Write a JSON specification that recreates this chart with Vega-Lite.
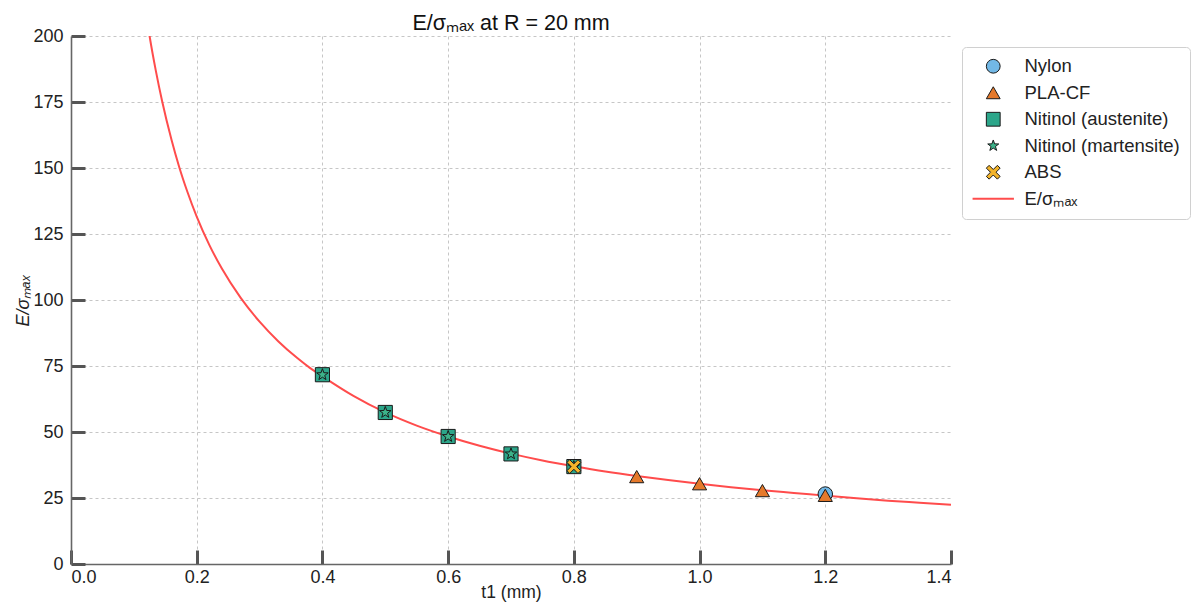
{
  "$schema": "https://vega.github.io/schema/vega-lite/v6.json",
  "width": 880,
  "height": 528,
  "autosize": "none",
  "padding": {"left": 71, "top": 36, "right": 243, "bottom": 41},
  "background": "white",
  "config": {
    "font": "Liberation Sans",
    "view": {"stroke": null},
    "axis": {
      "labelFont": "Liberation Sans",
      "titleFont": "Liberation Sans",
      "labelFontSize": 18,
      "titleFontSize": 18,
      "labelColor": "#222",
      "titleColor": "#222",
      "titleFontWeight": "normal",
      "domainColor": "#666",
      "domainWidth": 1.6,
      "tickColor": "#555",
      "tickWidth": 3,
      "tickSize": -14,
      "gridColor": "#b8b8b8",
      "gridDash": [3, 3],
      "gridWidth": 0.8
    },
    "legend": {
      "labelFont": "Liberation Sans",
      "labelFontSize": 18.5,
      "labelColor": "#222"
    }
  },
  "title": {
    "text": "E/σₘₐₓ at R = 20 mm",
    "anchor": "middle",
    "fontSize": 21.5,
    "fontWeight": "normal",
    "font": "Liberation Sans",
    "color": "#111",
    "offset": -7
  },
  "layer": [
    {
      "data": {
        "values": [
          {"t": 0.12, "v": 207.5, "series": "E/σₘₐₓ"},
          {"t": 0.125, "v": 200, "series": "E/σₘₐₓ"},
          {"t": 0.135, "v": 186.8, "series": "E/σₘₐₓ"},
          {"t": 0.145, "v": 175.3, "series": "E/σₘₐₓ"},
          {"t": 0.16, "v": 160.6, "series": "E/σₘₐₓ"},
          {"t": 0.172, "v": 150.5, "series": "E/σₘₐₓ"},
          {"t": 0.185, "v": 141.1, "series": "E/σₘₐₓ"},
          {"t": 0.2, "v": 131.6, "series": "E/σₘₐₓ"},
          {"t": 0.22, "v": 120.9, "series": "E/σₘₐₓ"},
          {"t": 0.24, "v": 111.9, "series": "E/σₘₐₓ"},
          {"t": 0.27, "v": 100.8, "series": "E/σₘₐₓ"},
          {"t": 0.3, "v": 91.8, "series": "E/σₘₐₓ"},
          {"t": 0.33, "v": 84.3, "series": "E/σₘₐₓ"},
          {"t": 0.36, "v": 78.0, "series": "E/σₘₐₓ"},
          {"t": 0.38, "v": 74.3, "series": "E/σₘₐₓ"},
          {"t": 0.4, "v": 71.1, "series": "E/σₘₐₓ"},
          {"t": 0.45, "v": 63.6, "series": "E/σₘₐₓ"},
          {"t": 0.5, "v": 57.4, "series": "E/σₘₐₓ"},
          {"t": 0.55, "v": 52.4, "series": "E/σₘₐₓ"},
          {"t": 0.6, "v": 48.3, "series": "E/σₘₐₓ"},
          {"t": 0.65, "v": 44.8, "series": "E/σₘₐₓ"},
          {"t": 0.7, "v": 41.8, "series": "E/σₘₐₓ"},
          {"t": 0.75, "v": 39.2, "series": "E/σₘₐₓ"},
          {"t": 0.8, "v": 37, "series": "E/σₘₐₓ"},
          {"t": 0.85, "v": 35, "series": "E/σₘₐₓ"},
          {"t": 0.9, "v": 33.3, "series": "E/σₘₐₓ"},
          {"t": 0.95, "v": 31.8, "series": "E/σₘₐₓ"},
          {"t": 1.0, "v": 30.4, "series": "E/σₘₐₓ"},
          {"t": 1.05, "v": 29.1, "series": "E/σₘₐₓ"},
          {"t": 1.1, "v": 27.9, "series": "E/σₘₐₓ"},
          {"t": 1.15, "v": 26.9, "series": "E/σₘₐₓ"},
          {"t": 1.2, "v": 25.9, "series": "E/σₘₐₓ"},
          {"t": 1.25, "v": 24.9, "series": "E/σₘₐₓ"},
          {"t": 1.3, "v": 24.0, "series": "E/σₘₐₓ"},
          {"t": 1.35, "v": 23.2, "series": "E/σₘₐₓ"},
          {"t": 1.4, "v": 22.4, "series": "E/σₘₐₓ"}
        ]
      },
      "mark": {"type": "line", "strokeWidth": 2, "clip": true, "interpolate": "monotone"},
      "encoding": {
        "x": {
          "field": "t", "type": "quantitative",
          "scale": {"domain": [0, 1.4], "nice": false},
          "axis": {
            "title": "t1 (mm)",
            "titleFontSize": 17.5,
            "values": [0, 0.2, 0.4, 0.6, 0.8, 1.0, 1.2, 1.4],
            "format": ".1f",
            "labelPadding": 18,
            "titlePadding": -3,
            "gridOpacity": {"condition": {"test": "datum.value > 1.39 || datum.value < 0.01", "value": 0}, "value": 1}
          }
        },
        "y": {
          "field": "v", "type": "quantitative",
          "scale": {"domain": [0, 200], "nice": false},
          "axis": {
            "title": "E/σₘₐₓ",
            "titleFontStyle": "italic",
            "values": [0, 25, 50, 75, 100, 125, 150, 175, 200],
            "labelPadding": 22,
            "titlePadding": 0,
            "gridOpacity": {"condition": {"test": "datum.value < 0.01", "value": 0}, "value": 1}
          }
        },
        "stroke": {
          "field": "series", "type": "nominal",
          "scale": {
            "domain": ["Nylon", "PLA-CF", "Nitinol (austenite)", "Nitinol (martensite)", "ABS", "E/σₘₐₓ"],
            "range": ["#1a1a1a", "#1a1a1a", "#1a1a1a", "#1a1a1a", "#1a1a1a", "#ff4c4c"]
          },
          "legend": {
            "title": null,
            "orient": "none",
            "legendX": 891,
            "legendY": 11,
            "padding": 10,
            "fillColor": "white",
            "strokeColor": "#d0d0d0",
            "cornerRadius": 4,
            "symbolSize": 190,
            "symbolOffset": 12,
            "labelOffset": 22,
            "rowPadding": 7.5,
            "encode": {
              "symbols": {
                "update": {
                  "strokeWidth": {"signal": "datum.value === 'E/σₘₐₓ' ? 2 : 1"},
                  "size": {"signal": "datum.value === 'Nitinol (martensite)' ? 110 : 190"},
                  "opacity": {"value": 1}
                }
              }
            }
          }
        }
      }
    },
    {
      "data": {
        "values": [
          {"t": 1.2, "v": 26.5, "series": "Nylon"},
          {"t": 0.9, "v": 33.1, "series": "PLA-CF"},
          {"t": 1.0, "v": 30.4, "series": "PLA-CF"},
          {"t": 1.1, "v": 27.8, "series": "PLA-CF"},
          {"t": 1.2, "v": 26.0, "series": "PLA-CF"},
          {"t": 0.4, "v": 71.7, "series": "Nitinol (austenite)"},
          {"t": 0.5, "v": 57.4, "series": "Nitinol (austenite)"},
          {"t": 0.6, "v": 48.3, "series": "Nitinol (austenite)"},
          {"t": 0.7, "v": 41.7, "series": "Nitinol (austenite)"},
          {"t": 0.8, "v": 36.9, "series": "Nitinol (austenite)"},
          {"t": 0.4, "v": 71.7, "series": "Nitinol (martensite)"},
          {"t": 0.5, "v": 57.4, "series": "Nitinol (martensite)"},
          {"t": 0.6, "v": 48.3, "series": "Nitinol (martensite)"},
          {"t": 0.7, "v": 41.7, "series": "Nitinol (martensite)"},
          {"t": 0.8, "v": 36.9, "series": "Nitinol (martensite)"},
          {"t": 0.8, "v": 36.9, "series": "ABS"}
        ]
      },
      "mark": {"type": "point", "filled": true, "strokeWidth": 1, "opacity": 1},
      "encoding": {
        "x": {"field": "t", "type": "quantitative"},
        "y": {"field": "v", "type": "quantitative"},
        "stroke": {"field": "series", "type": "nominal"},
        "color": {
          "field": "series", "type": "nominal",
          "scale": {
            "domain": ["Nylon", "PLA-CF", "Nitinol (austenite)", "Nitinol (martensite)", "ABS", "E/σₘₐₓ"],
            "range": ["#72b8e6", "#e5792b", "#2ca68a", "#3db38a", "#f2b32a", "transparent"]
          },
          "legend": {"title": null}
        },
        "shape": {
          "field": "series", "type": "nominal",
          "scale": {
            "domain": ["Nylon", "PLA-CF", "Nitinol (austenite)", "Nitinol (martensite)", "ABS", "E/σₘₐₓ"],
            "range": ["circle", "triangle-up", "square", "M0,-1.1L0.26,-0.36L1.05,-0.34L0.42,0.14L0.65,0.89L0,0.45L-0.65,0.89L-0.42,0.14L-1.05,-0.34L-0.26,-0.36Z", "M-1,-0.6L-0.6,-1L0,-0.4L0.6,-1L1,-0.6L0.4,0L1,0.6L0.6,1L0,0.4L-0.6,1L-1,0.6L-0.4,0Z", "M-3,0H3"]
          },
          "legend": {"title": null}
        },
        "size": {
          "field": "series", "type": "nominal",
          "scale": {
            "type": "ordinal",
            "domain": ["Nylon", "PLA-CF", "Nitinol (austenite)", "Nitinol (martensite)", "ABS"],
            "range": [210, 200, 200, 120, 190]
          },
          "legend": null
        }
      }
    }
  ]
}
